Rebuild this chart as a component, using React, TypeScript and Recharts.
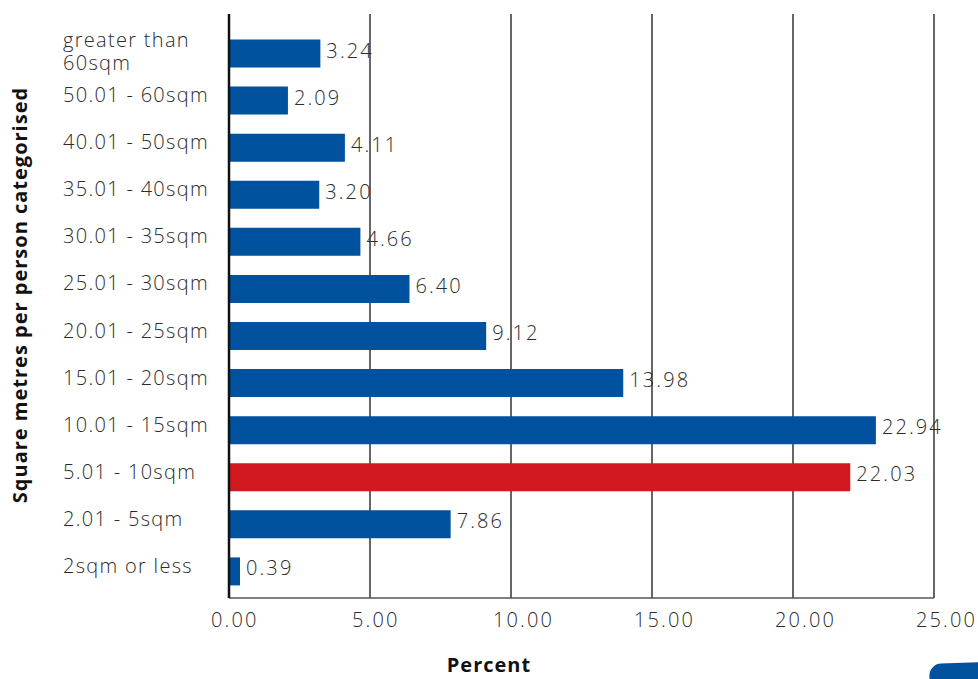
import { BarChart, Bar, XAxis, YAxis, CartesianGrid, Cell, LabelList, Label } from 'recharts';

const categories = [
  'greater than 60sqm',
  '50.01 - 60sqm',
  '40.01 - 50sqm',
  '35.01 - 40sqm',
  '30.01 - 35sqm',
  '25.01 - 30sqm',
  '20.01 - 25sqm',
  '15.01 - 20sqm',
  '10.01 - 15sqm',
  '5.01 - 10sqm',
  '2.01 - 5sqm',
  '2sqm or less',
];
const percents = [3.24, 2.09, 4.11, 3.2, 4.66, 6.4, 9.12, 13.98, 22.94, 22.03, 7.86, 0.39];
const highlighted = '5.01 - 10sqm';
const xTicks = [0, 5, 10, 15, 20, 25];

const BLUE = '#00519e';
const RED = '#d2181f';
const TEXT = '#2b2b2b';
const FONT = '"Open Sans", Lato, sans-serif';

const data = categories.map((name, i) => ({ name, value: percents[i] }));

// break long category names onto several lines
function wrap(label: string, max: number) {
  const lines: string[] = [];
  let cur = '';
  for (const w of label.split(' ')) {
    const next = cur ? cur + ' ' + w : w;
    if (next.length > max && cur) {
      lines.push(cur);
      cur = w;
    } else {
      cur = next;
    }
  }
  if (cur) lines.push(cur);
  return lines;
}

function CategoryTick({ y, payload }: any) {
  const lines = wrap(payload.value, 14);
  const lh = 23;
  const first = y + 2 - (lines.length - 1) * 8;
  return (
    <text x={63} y={first} fontSize={20} fill={TEXT} fontFamily={FONT} fontWeight={300} letterSpacing={1.3}>
      {lines.map((l, i) => (
        <tspan key={i} x={63} dy={i === 0 ? 0 : lh}>
          {l}
        </tspan>
      ))}
    </text>
  );
}

function PercentTick({ x, y, payload }: any) {
  return (
    <text x={x - 18} y={y + 29} fontSize={20} fill={TEXT} fontFamily={FONT} fontWeight={300} letterSpacing={2.1}>
      {Number(payload.value).toFixed(2)}
    </text>
  );
}

function ValueLabel({ x, y, width, height, value }: any) {
  return (
    <text
      x={x + width + 6}
      y={y + height / 2 + 4}
      fontSize={20}
      fill={TEXT}
      fontFamily={FONT}
      fontWeight={300}
      letterSpacing={2.1}
    >
      {Number(value).toFixed(2)}
    </text>
  );
}

export default function App() {
  return (
    <div style={{ position: 'absolute', left: 0, top: 0, width: 978, height: 679, overflow: 'hidden', background: '#fff' }}>
      <BarChart
        width={978}
        height={679}
        data={data}
        layout="vertical"
        margin={{ top: 14, right: 44, bottom: 0, left: 0 }}
      >
        <CartesianGrid horizontal={false} stroke="#333" strokeWidth={1.5} />
        <XAxis
          type="number"
          domain={[0, 25]}
          ticks={xTicks}
          height={81}
          tickLine={false}
          tickSize={0}
          tickMargin={0}
          axisLine={{ stroke: '#555', strokeWidth: 1.5 }}
          tick={<PercentTick />}
          interval={0}
        >
          <Label
            content={() => (
              <text
                x={489}
                y={672}
                textAnchor="middle"
                fontSize={20}
                fontWeight={700}
                fill="#111"
                fontFamily={FONT}
                letterSpacing={1}
              >
                Percent
              </text>
            )}
          />
        </XAxis>
        <YAxis
          type="category"
          dataKey="name"
          width={229}
          padding={{ top: 15.5, bottom: 3.5 }}
          tickLine={false}
          axisLine={{ stroke: '#111', strokeWidth: 2.5 }}
          tick={<CategoryTick />}
          interval={0}
        >
          <Label
            content={() => (
              <text
                x={0}
                y={0}
                transform="translate(27 295) rotate(-90)"
                textAnchor="middle"
                fontSize={20}
                fontWeight={700}
                fill="#111"
                fontFamily={FONT}
                letterSpacing={1}
              >
                Square metres per person categorised
              </text>
            )}
          />
        </YAxis>
        <Bar dataKey="value" barSize={28} isAnimationActive={false}>
          {data.map((d) => (
            <Cell key={d.name} fill={d.name === highlighted ? RED : BLUE} />
          ))}
          <LabelList dataKey="value" content={<ValueLabel />} />
        </Bar>
      </BarChart>
      <div
        style={{
          position: 'absolute',
          left: 929,
          top: 664,
          width: 60,
          height: 30,
          background: BLUE,
          borderTopLeftRadius: 12,
          transform: 'rotate(-2deg)',
          transformOrigin: 'left top',
        }}
      />
    </div>
  );
}
